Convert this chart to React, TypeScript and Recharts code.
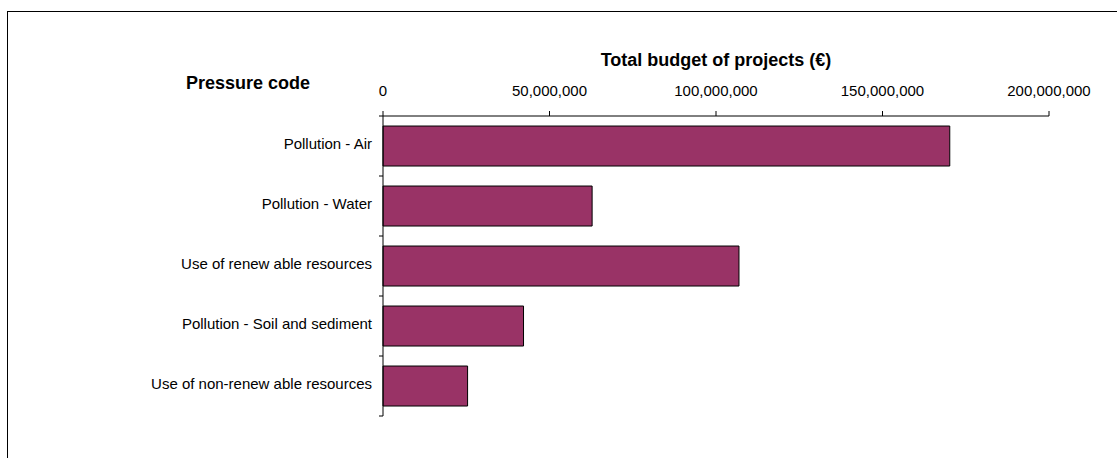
import React from 'react';
import { BarChart, Bar, XAxis, YAxis } from 'recharts';

// categories, top to bottom
const categories = [
  'Pollution - Air',
  'Pollution - Water',
  'Use of renew able resources',
  'Pollution - Soil and sediment',
  'Use of non-renew able resources',
];
// total budget per pressure code (EUR)
const budgets = [170200000, 62800000, 106900000, 42200000, 25400000];
const xTicks = [0, 50000000, 100000000, 150000000, 200000000];

const data = categories.map((name, i) => ({ name, budget: budgets[i] }));

const W = 1117;
const H = 458;
const PLOT_TOP = 116;
const PLOT_BOTTOM = 416;
const BAND = (PLOT_BOTTOM - PLOT_TOP) / categories.length;
const FONT = '"Liberation Sans", Arial, sans-serif';

function CatTick(props: any) {
  const { x, y, payload, index } = props;
  const axisX = x + 11;
  return (
    <g>
      <line x1={axisX - 4} x2={axisX} y1={y - BAND / 2} y2={y - BAND / 2} stroke="#000" />
      {index === categories.length - 1 && (
        <line x1={axisX - 4} x2={axisX} y1={y + BAND / 2} y2={y + BAND / 2} stroke="#000" />
      )}
      <text x={x} y={y} dy={3} textAnchor="end" fontSize={15} fontFamily={FONT} fill="#000">
        {payload.value}
      </text>
    </g>
  );
}

export default function App() {
  return (
    <div style={{ position: 'absolute', left: 0, top: 0, width: W, height: H, overflow: 'hidden', background: '#fff' }}>
      <div style={{ position: 'absolute', left: 7, top: 11, width: W, height: H, borderLeft: '1px solid #000', borderTop: '1px solid #000' }} />
      <div style={{ position: 'absolute', left: 383, width: 666, top: 48, textAlign: 'center', fontFamily: FONT, fontWeight: 'bold', fontSize: 18, lineHeight: '24px' }}>
        Total budget of projects (€)
      </div>
      <div style={{ position: 'absolute', left: 186, top: 71, fontFamily: FONT, fontWeight: 'bold', fontSize: 18, lineHeight: '24px' }}>
        Pressure code
      </div>
      <div style={{ position: 'absolute', left: 0, top: 0 }}>
        <BarChart
          width={W}
          height={H}
          data={data}
          layout="vertical"
          margin={{ top: 0, right: 68, bottom: H - PLOT_BOTTOM, left: 0 }}
          barCategoryGap="16.7%"
        >
          <XAxis
            type="number"
            orientation="top"
            domain={[0, 200000000]}
            ticks={xTicks}
            height={PLOT_TOP}
            tickSize={5}
            tickMargin={15}
            stroke="#000"
            tick={{ fontSize: 15, fontFamily: FONT, fill: '#000' }}
            tickFormatter={(v: number) => v.toLocaleString('en-US')}
          />
          <YAxis
            type="category"
            dataKey="name"
            width={383}
            tickLine={false}
            tickSize={0}
            tickMargin={11}
            stroke="#000"
            tick={<CatTick />}
            interval={0}
          />
          <Bar dataKey="budget" fill="#993366" stroke="#000" strokeWidth={1} isAnimationActive={false} />
        </BarChart>
      </div>
    </div>
  );
}
